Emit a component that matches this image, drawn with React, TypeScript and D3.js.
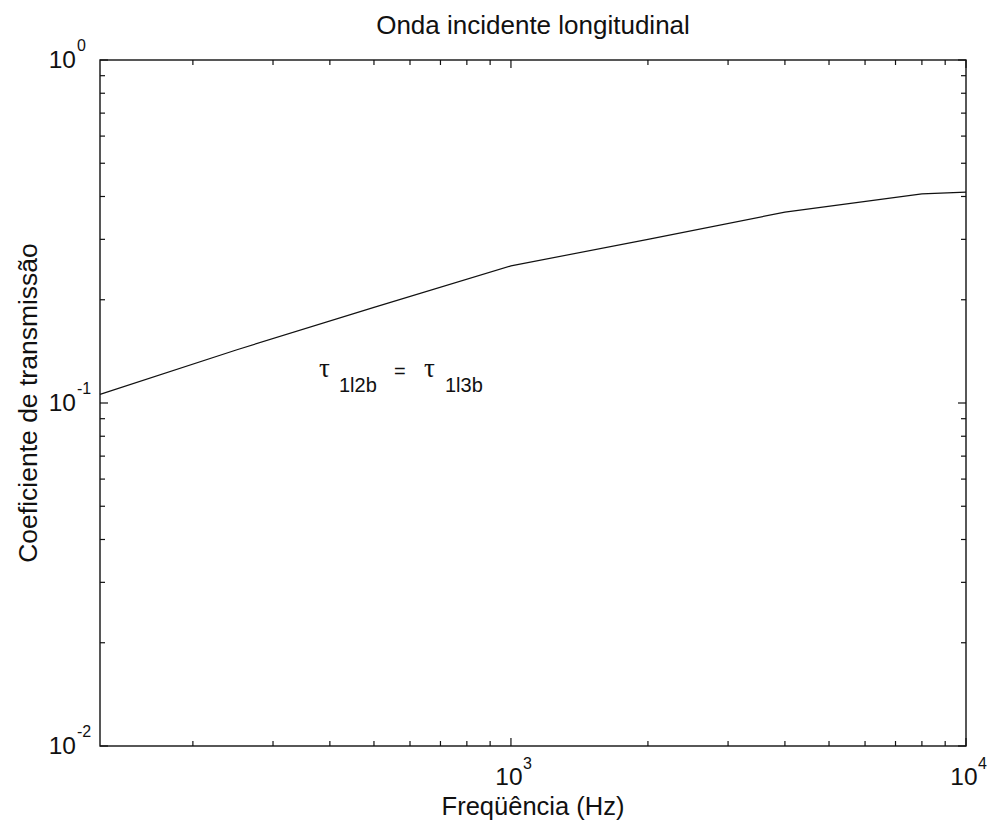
import React from "react";
import * as d3 from "d3";

// Transmission coefficient vs. frequency (octave bands + upper limit)
const frequencies = [125, 250, 500, 1000, 2000, 4000, 8000, 10000];
const transmission = [0.106, 0.143, 0.19, 0.251, 0.3, 0.36, 0.407, 0.412];

const xDomain = [125, 10000];
const yDomain = [0.01, 1];
const xMajor = [1000, 10000];
const yMajor = [0.01, 0.1, 1];

const titleText = "Onda incidente longitudinal";
const xLabelText = "Freqüência (Hz)";
const yLabelText = "Coeficiente de transmissão";

const W = 992;
const H = 830;
const left = 100;
const right = 966;
const top = 60;
const bottom = 746;

const SANS = "'Liberation Sans', Arial, Helvetica, sans-serif";
const SERIF = "'Liberation Serif', 'Times New Roman', serif";

export default function App() {
  const x = d3.scaleLog().domain(xDomain).range([left, right]);
  const y = d3.scaleLog().domain(yDomain).range([bottom, top]);

  const isMajor = (v: number) => Math.abs(Math.log10(v) - Math.round(Math.log10(v))) < 1e-9;
  const xTicks = x.ticks().filter((t) => t >= xDomain[0] && t <= xDomain[1]);
  const yTicks = y.ticks().filter((t) => t >= yDomain[0] && t <= yDomain[1]);

  const line = d3
    .line<number>()
    .x((_, i) => x(frequencies[i]))
    .y((d) => y(d));

  const majorLen = 8;
  const minorLen = 5;

  return (
    <svg
      width={W}
      height={H}
      style={{ position: "absolute", left: 0, top: 0, background: "#fff" }}
      fontFamily={SANS}
    >
      <rect x={0} y={0} width={W} height={H} fill="#fff" />

      {/* x ticks, bottom and top, pointing inward */}
      {xTicks.map((t) => {
        const len = isMajor(t) ? majorLen : minorLen;
        const px = x(t);
        return (
          <g key={"xt" + t} stroke="#111" strokeWidth={1.2}>
            <line x1={px} x2={px} y1={bottom} y2={bottom - len} />
            <line x1={px} x2={px} y1={top} y2={top + len} />
          </g>
        );
      })}

      {/* y ticks, left and right, pointing inward */}
      {yTicks.map((t) => {
        const len = isMajor(t) ? majorLen : minorLen;
        const py = y(t);
        return (
          <g key={"yt" + t} stroke="#111" strokeWidth={1.2}>
            <line x1={left} x2={left + len} y1={py} y2={py} />
            <line x1={right} x2={right - len} y1={py} y2={py} />
          </g>
        );
      })}

      {/* axes box */}
      <rect
        x={left}
        y={top}
        width={right - left}
        height={bottom - top}
        fill="none"
        stroke="#111"
        strokeWidth={1.4}
      />

      {/* curve */}
      <path d={line(transmission) || ""} fill="none" stroke="#111" strokeWidth={1.2} />

      {/* x tick labels */}
      {xMajor.map((t) => {
        const px = x(t);
        const exp = Math.round(Math.log10(t));
        return (
          <g key={"xl" + t} fill="#111">
            <text x={px - 2} y={785} fontSize={24.5} textAnchor="middle">
              10
            </text>
            <text x={px + 12} y={769} fontSize={16}>
              {exp}
            </text>
          </g>
        );
      })}

      {/* y tick labels */}
      {yMajor.map((t) => {
        const py = y(t);
        const exp = Math.round(Math.log10(t));
        return (
          <g key={"yl" + t} fill="#111">
            <text x={76} y={py + 8} fontSize={24.5} textAnchor="end">
              10
            </text>
            <text x={77} y={py - 9} fontSize={16}>
              {exp === 0 ? "0" : "-" + Math.abs(exp)}
            </text>
          </g>
        );
      })}

      {/* annotation */}
      <g fill="#111">
        <text x={319} y={377} fontSize={27} fontFamily={SERIF}>
          τ
        </text>
        <text x={339} y={392} fontSize={20}>
          1l2b
        </text>
        <text x={394} y={378} fontSize={20}>
          =
        </text>
        <text x={424} y={377} fontSize={27} fontFamily={SERIF}>
          τ
        </text>
        <text x={445} y={392} fontSize={20}>
          1l3b
        </text>
      </g>

      {/* title and axis labels */}
      <text x={(left + right) / 2} y={34} fontSize={26} textAnchor="middle" fill="#111">
        {titleText}
      </text>
      <text x={(left + right) / 2} y={815} fontSize={25.5} textAnchor="middle" fill="#111">
        {xLabelText}
      </text>
      <text
        transform={`translate(37, ${(top + bottom) / 2}) rotate(-90)`}
        fontSize={26.5}
        textAnchor="middle"
        fill="#111"
      >
        {yLabelText}
      </text>
    </svg>
  );
}
